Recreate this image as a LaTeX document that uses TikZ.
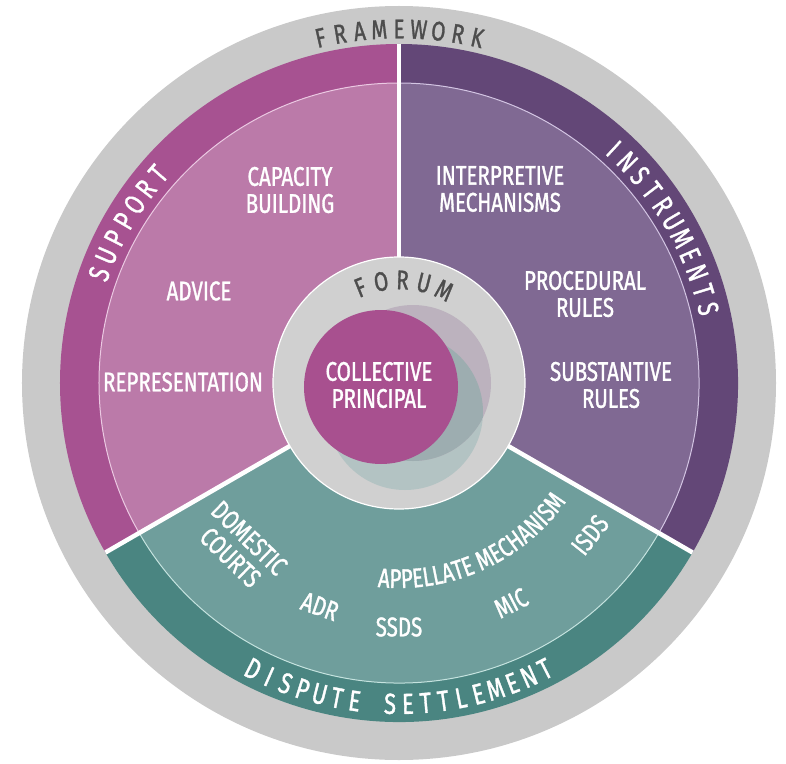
\documentclass[tikz,border=0pt]{standalone}
\usepackage{fontspec}
\setmainfont{Fira Sans}[FakeStretch=0.76,FakeBold=1.2]
\usetikzlibrary{decorations.text}
\definecolor{ringgray}{HTML}{C9C9C9}
\definecolor{supdark}{HTML}{A75291}
\definecolor{suplight}{HTML}{BB7AA9}
\definecolor{supline}{HTML}{EBC9E2}
\definecolor{insdark}{HTML}{634777}
\definecolor{inslight}{HTML}{806993}
\definecolor{insline}{HTML}{D3C5E3}
\definecolor{disdark}{HTML}{4A8581}
\definecolor{dislight}{HTML}{6F9E9C}
\definecolor{disline}{HTML}{C5E3DF}
\definecolor{forumgray}{HTML}{D0D0D0}
\definecolor{principal}{HTML}{A8508F}
\definecolor{mauvegray}{HTML}{BCB2BE}
\definecolor{tealgray}{HTML}{B3C3C3}
\definecolor{slategray}{HTML}{9DADB0}
\definecolor{textgray}{HTML}{4D4D4D}
\newcommand\lblsize{\fontsize{27}{27}\selectfont}
\newcommand\ringsize{\fontsize{29}{29}\selectfont}
\tikzset{
  lbl/.style={text=white, font=\lblsize, align=center, inner sep=0pt},
  ringlbl/.style={text=white, font=\ringsize, inner sep=0pt},
  darklbl/.style={ringlbl, font=\lblsize, text=textgray}
}

\begin{document}
\begin{tikzpicture}
        \useasboundingbox (-399pt,-380pt) rectangle (387pt,383pt);
        % framework ring
        \fill[ringgray] (0,0) circle (377pt);
        % the three sectors
        \fill[supdark] (0,0) -- (90:339pt) arc (90:210:339pt) -- cycle;
        \fill[insdark] (0,0) -- (-30:339pt) arc (-30:90:339pt) -- cycle;
        \fill[disdark] (0,0) -- (210:339pt) arc (210:330:339pt) -- cycle;
        \fill[suplight] (0,0) -- (90:300pt) arc (90:210:300pt) -- cycle;
        \fill[inslight] (0,0) -- (-30:300pt) arc (-30:90:300pt) -- cycle;
        \fill[dislight] (0,0) -- (210:300pt) arc (210:330:300pt) -- cycle;
        \draw[supline,line width=1pt] (90:300pt) arc (90:210:300pt);
        \draw[insline,line width=1pt] (-30:300pt) arc (-30:90:300pt);
        \draw[disline,line width=1pt] (210:300pt) arc (210:330:300pt);
        \foreach \a in {90,210,330}
          \draw[white,line width=4.5pt] (\a:120pt) -- (\a:339pt);
        % forum
        \draw[white,line width=1.2pt,fill=forumgray] (0,0) circle (126pt);
        \fill[tealgray] (6pt,-29pt) circle (78pt);
        \fill[mauvegray] (14pt,0pt) circle (78pt);
        \begin{scope}
          \clip (14pt,0pt) circle (78pt);
          \fill[slategray] (6pt,-29pt) circle (78pt);
        \end{scope}
        \fill[principal] (-18pt,-4pt) circle (77pt);
        \node[lbl] (principal) at (-20pt,-2pt) {COLLECTIVE\\PRINCIPAL};
        % ring titles
        \foreach \ch [count=\i] in {F,R,A,M,E,W,O,R,K}
          \node[darklbl,rotate={(5-\i)*3.2}] (fw\i) at ({90+(5-\i)*3.2}:354pt) {\ch};
        \foreach \ch [count=\i] in {S,U,P,P,O,R,T}
          \node[ringlbl,rotate={59.5+(4-\i)*3.5}] (sp\i) at ({149.5+(4-\i)*3.5}:319pt) {\ch};
        \foreach \ch [count=\i] in {I,N,S,T,R,U,M,E,N,T,S}
          \node[ringlbl,rotate={-59.5+(6-\i)*3.4}] (in\i) at ({30.5+(6-\i)*3.4}:318pt) {\ch};
        \foreach \ch [count=\i] in {D,I,S,P,U,T,E,{},S,E,T,T,L,E,M,E,N,T}
          \node[ringlbl,rotate={(\i-9.5)*3.18}] (ds\i) at ({270+(\i-9.5)*3.18}:321pt) {\ch};
        \foreach \ch [count=\i] in {F,O,R,U,M}
          \node[darklbl,rotate={-2+(3-\i)*12}] (fo\i) at ({88+(3-\i)*12}:103pt) {\ch};
        % support
        \node[lbl] (capacity) at (-109pt,193pt) {CAPACITY\\BUILDING};
        \node[lbl] (advice) at (-200pt,92pt) {ADVICE};
        \node[lbl] (representation) at (-216pt,1pt) {REPRESENTATION};
        % instruments
        \node[lbl] (interpretive) at (101pt,194pt) {INTERPRETIVE\\MECHANISMS};
        \node[lbl] (procedural) at (186pt,89pt) {PROCEDURAL\\RULES};
        \node[lbl] (substantive) at (212pt,-2pt) {SUBSTANTIVE\\RULES};
        % dispute settlement
        \node[lbl,rotate=-44] (courts) at (226:229pt) {DOMESTIC\\COURTS};
        \node[lbl,rotate=-19.5] (adr) at (250.5:237pt) {ADR};
        \node[lbl] (ssds) at (270:244pt) {SSDS};
        \node[lbl,rotate=27] (mic) at (297:247pt) {MIC};
        \node[lbl,rotate=51.5] (isds) at (321.5:244pt) {ISDS};
        \path[decorate,decoration={text along path,text color=white,
          text={|\lblsize|APPELLATE MECHANISM}}]
          (264:205pt) arc (264:345:205pt);
\end{tikzpicture}
\end{document}
